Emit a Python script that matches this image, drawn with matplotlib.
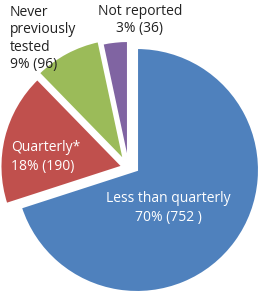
import matplotlib.pyplot as plt

categories = ['Less than quarterly', 'Quarterly*', 'Never\npreviously\ntested', 'Not reported']
counts = [752, 190, 96, 36]
percents = [70, 18, 9, 3]
colors = ['#4F81BD', '#C0504D', '#9BBB59', '#8064A2']
explode = [0, 15, 0, 0]
# extra sideways nudge (px) for the two small slices, as in the original
nudge = [(0, 0), (0, 0), (-13, 9.5), (-9, 7)]

plt.rcParams['font.family'] = ['Open Sans', 'DejaVu Sans']

fig = plt.figure(figsize=(2.6, 2.95), dpi=100)
ax = fig.add_axes([0, 0, 1, 1])

# work in pixel-like units so the labels are easy to place
wedges, _ = ax.pie(counts, colors=colors, explode=explode, startangle=90, counterclock=False,
                   center=(137, 125), radius=122,
                   wedgeprops=dict(edgecolor='white', linewidth=1.5))
for w, (dx, dy) in zip(wedges, nudge):
    cx, cy = w.center
    w.set_center((cx + dx, cy + dy))

ax.set_xlim(0, 260)
ax.set_ylim(0, 295)
ax.set_aspect('equal')
ax.axis('off')

labels = [f'{c}\n{p}% ({n}{" " if i == 0 else ""})' for i, (c, p, n) in enumerate(zip(categories, percents, counts))]

ax.text(168, 87, labels[0], color='white', fontsize=10, ha='center', va='center', linespacing=1.3)
ax.text(11, 138, labels[1], color='white', fontsize=10, ha='left', va='center', linespacing=1.3)
ax.text(10, 290, labels[2], color='#222222', fontsize=10, ha='left', va='top', linespacing=1.22)
ax.text(140, 291, labels[3], color='#222222', fontsize=10, ha='center', va='top', linespacing=1.22)

fig.savefig('out.png', dpi=100)
